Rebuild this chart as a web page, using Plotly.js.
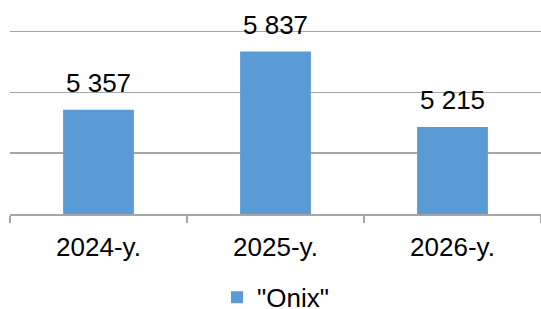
<!DOCTYPE html>
<html>
<head>
<meta charset="utf-8">
<script src="https://cdn.plot.ly/plotly-3.0.1.min.js"></script>
<style>html,body{margin:0;padding:0;background:#fff;}#chart{width:541px;height:309px;}</style>
</head>
<body>
<div id="chart"></div>
<script>
const categories = ["2024-y.", "2025-y.", "2026-y."];
const values = [5357, 5837, 5215];
const seriesName = '"Onix"';

function fmt(v) {
  return String(v).replace(/\B(?=(\d{3})+(?!\d))/g, ' ');
}

const trace = {
  type: 'bar',
  x: categories,
  y: values,
  name: seriesName,
  marker: {color: '#5b9bd5'},
  hoverinfo: 'none',
  showlegend: true
};

const annotations = categories.map((c, i) => ({
  x: c,
  y: values[i],
  xref: 'x',
  yref: 'y',
  text: fmt(values[i]),
  showarrow: false,
  xanchor: 'center',
  yanchor: 'bottom',
  yshift: 10,
  font: {family: 'Liberation Sans, Arial, sans-serif', size: 26, color: '#000'}
}));

const layout = {
  width: 541,
  height: 309,
  margin: {l: 10, r: 0, t: 30, b: 95, pad: 0, autoexpand: false},
  paper_bgcolor: '#fff',
  plot_bgcolor: '#fff',
  bargap: 0.6,
  font: {family: 'Liberation Sans, Arial, sans-serif', size: 26, color: '#000'},
  annotations: annotations,
  xaxis: {
    type: 'category',
    showline: true,
    linecolor: '#a6a6a6',
    linewidth: 1.5,
    ticks: 'outside',
    tickson: 'boundaries',
    ticklen: 7,
    tickcolor: '#a6a6a6',
    tickwidth: 1.5,
    ticklabelstandoff: 9,
    showgrid: false,
    automargin: false,
    tickfont: {size: 26, color: '#000'}
  },
  yaxis: {
    range: [4500, 6014],
    dtick: 500,
    tick0: 4500,
    showgrid: true,
    gridcolor: '#a6a6a6',
    gridwidth: 1.5,
    zeroline: false,
    showticklabels: false,
    showline: false,
    automargin: false
  },
  showlegend: true,
  legend: {
    orientation: 'h',
    x: 0.5,
    xanchor: 'center',
    y: -0.325,
    yanchor: 'top',
    font: {size: 26, color: '#000'}
  }
};

Plotly.newPlot('chart', [trace], layout, {staticPlot: true, displayModeBar: false});
</script>
</body>
</html>
